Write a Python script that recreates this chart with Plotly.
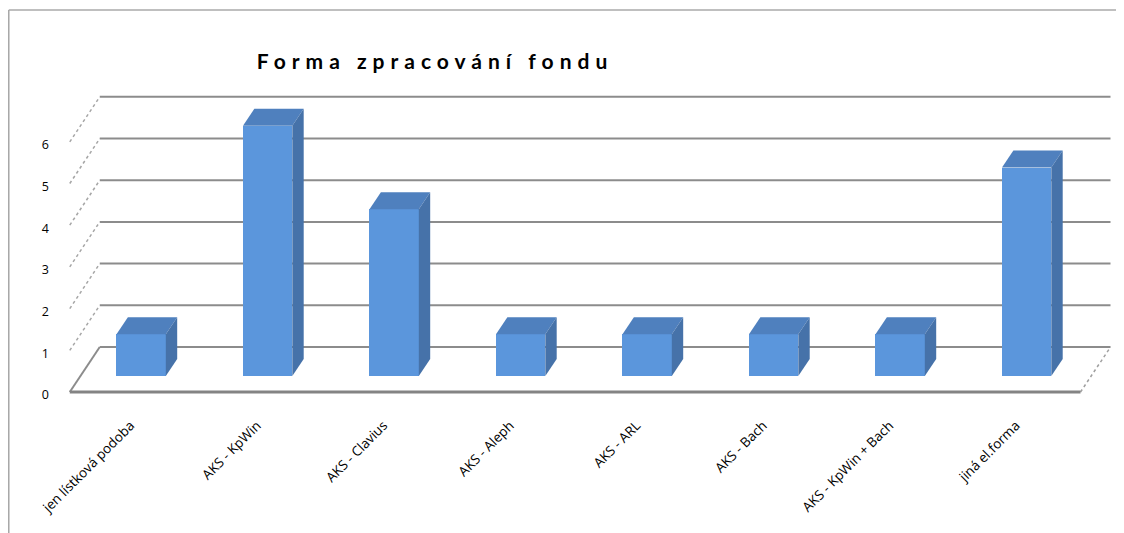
import plotly.graph_objects as go

# ---- data ----
categories = ["jen lístková podoba", "AKS - KpWin", "AKS - Clavius", "AKS - Aleph",
              "AKS - ARL", "AKS - Bach", "AKS - KpWin + Bach", "jiná el.forma"]
values = [1, 6, 4, 1, 1, 1, 1, 5]
y_ticks = [0, 1, 2, 3, 4, 5, 6]
title_text = "Forma zpracování fondu"

# ---- pseudo-3D geometry (in axis units) ----
DX, DY = 0.237, 1.079          # full floor depth offset
FLOOR_X0, FLOOR_X1 = -0.48, 7.51
D0, DD, W = 0.355, 0.38, 0.39   # bar front depth, bar depth, bar width
ox, oy = D0 * DX, D0 * DY
dx, dy = DD * DX, DD * DY

FRONT = "#5B96DC"
TOP = "#4F80BE"
SIDE = "#4672A9"
GRID = "#8C8C8C"

xs = [i + ox for i in range(len(categories))]

fig = go.Figure()
fig.add_trace(go.Bar(x=xs, y=values, base=oy, width=W, marker=dict(color=FRONT, line=dict(width=0)),
                     hoverinfo="skip", showlegend=False))

for i, v in enumerate(values):
    xl, xr = xs[i] - W / 2, xs[i] + W / 2
    t = oy + v
    fig.add_trace(go.Scatter(x=[xl, xr, xr + dx, xl + dx, xl], y=[t, t, t + dy, t + dy, t],
                             fill="toself", fillcolor=TOP, mode="lines", line=dict(width=0),
                             hoverinfo="skip", showlegend=False))
    fig.add_trace(go.Scatter(x=[xr, xr, xr + dx, xr + dx, xr], y=[oy, t, t + dy, oy + dy, oy],
                             fill="toself", fillcolor=SIDE, mode="lines", line=dict(width=0),
                             hoverinfo="skip", showlegend=False))

shapes = []
# back wall gridlines
for v in y_ticks:
    shapes.append(dict(type="line", xref="x", yref="y", layer="below",
                       x0=FLOOR_X0 + DX, x1=FLOOR_X1 + DX, y0=v + DY, y1=v + DY,
                       line=dict(color=GRID, width=2)))
# side wall diagonals
for v in y_ticks:
    shapes.append(dict(type="line", xref="x", yref="y", layer="below",
                       x0=FLOOR_X0, x1=FLOOR_X0 + DX, y0=v, y1=v + DY,
                       line=dict(color="#A6A6A6" if v else GRID, width=1.5 if v else 2,
                                 dash="dot" if v else "solid")))
# floor right edge
shapes.append(dict(type="line", xref="x", yref="y", layer="below",
                   x0=FLOOR_X1, x1=FLOOR_X1 + DX, y0=0, y1=DY,
                   line=dict(color="#A0A0A0", width=1.5, dash="dot")))
# floor front edge
shapes.append(dict(type="line", xref="x", yref="y", layer="below",
                   x0=FLOOR_X0, x1=FLOOR_X1, y0=0, y1=0,
                   line=dict(color="#848484", width=3)))
# outer chart border
shapes.append(dict(type="line", xref="paper", yref="paper", x0=-0.0504, x1=1.2, y0=1.24375, y1=1.24375,
                   line=dict(color="#BFBFBF", width=2)))
shapes.append(dict(type="line", xref="paper", yref="paper", x0=-0.0504, x1=-0.0504, y0=1.24375, y1=-0.5,
                   line=dict(color="#A6A6A6", width=1.5)))

fig.update_layout(
    width=1124, height=533,
    margin=dict(l=54, r=14, t=80, b=133),
    paper_bgcolor="white", plot_bgcolor="white",
    shapes=shapes,
    font=dict(family="Lato", size=12, color="#000000"),
    title=dict(text='<span style="letter-spacing:6px">' + title_text + '</span>',
               font=dict(family="Lato", size=21, color="#000000", weight="bold"),
               x=427 / 1124, xref="container", xanchor="center",
               y=1 - 54 / 533, yref="container", yanchor="middle"),
    xaxis=dict(range=[-0.5415, 7.8063], tickmode="array", tickvals=list(range(len(categories))),
               ticktext=categories, tickangle=-45, showgrid=False, zeroline=False, showline=False,
               ticks="", tickfont=dict(family="Open Sans", size=13.5), ticklabelstandoff=6),
    yaxis=dict(range=[-0.3837, 7.2902], tickmode="array", tickvals=y_ticks,
               ticktext=[str(t) for t in y_ticks], showgrid=False, zeroline=False, showline=False,
               ticks="", tickfont=dict(family="Open Sans", size=12.5), ticklabelstandoff=12,
               ticklabelshift=3),
    bargap=0,
)

fig.write_html("out.html")
